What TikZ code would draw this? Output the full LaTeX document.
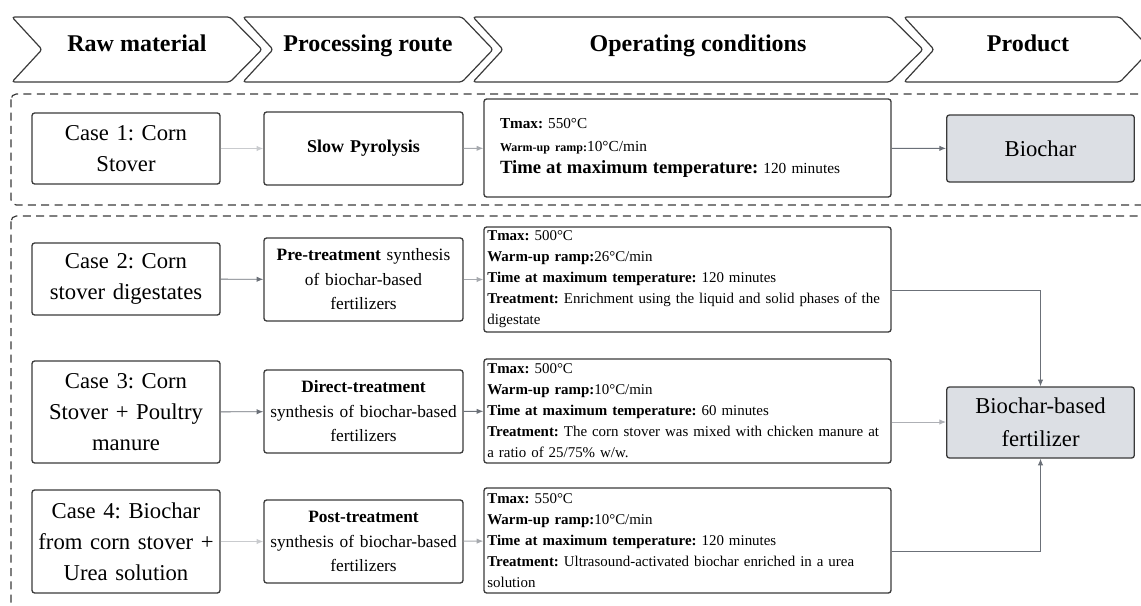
\documentclass[tikz,border=0pt]{standalone}
\usepackage{fontspec}
\setmainfont{Liberation Serif}
\usetikzlibrary{arrows.meta}

\frenchspacing
\hyphenpenalty=10000
\exhyphenpenalty=10000

\definecolor{edgeline}{HTML}{3A3A3A}
\definecolor{linkgray}{HTML}{6B7078}
\definecolor{faintgray}{HTML}{C9CBCE}
\definecolor{prodfill}{HTML}{DCDFE4}

\begin{document}
\begin{tikzpicture}[
    x=0.75pt, y=-0.75pt,
    stage/.style={
        draw=edgeline,
        line width=0.9pt,
        rounded corners=2pt
    },
    stagelabel/.style={
        anchor=base,
        font=\fontsize{18}{22}\selectfont\bfseries
    },
    group/.style={
        draw=edgeline,
        line width=0.9pt,
        dash pattern=on 6pt off 4pt,
        rounded corners=4pt
    },
    casebox/.style={
        draw=edgeline,
        rectangle,
        rounded corners=2pt,
        line width=1pt,
        minimum width=141pt,
        text width=135pt,
        inner xsep=3pt,
        align=center,
        font=\fontsize{17}{23.25}\selectfont
    },
    routebox/.style={
        draw=edgeline,
        rectangle,
        rounded corners=2pt,
        line width=1pt,
        minimum width=149.25pt,
        text width=145pt,
        inner xsep=2pt,
        minimum height=62.25pt,
        align=center,
        font=\fontsize{13}{18.4}\selectfont
    },
    condbox/.style={
        draw=edgeline,
        rectangle,
        rounded corners=2pt,
        line width=1pt,
        minimum width=305.25pt,
        text width=300.25pt,
        inner xsep=2.5pt,
        inner ysep=0pt,
        minimum height=78.75pt,
        align=left,
        font=\fontsize{11.2}{15.75}\selectfont
    },
    productbox/.style={
        draw=edgeline,
        fill=prodfill,
        rectangle,
        rounded corners=2pt,
        line width=1pt,
        minimum width=140.25pt,
        text width=134pt,
        align=center,
        font=\fontsize{17}{24.5}\selectfont
    },
    flow/.style={-{Latex[length=5pt,width=4pt]}, draw=linkgray, line width=0.7pt},
    faintflow/.style={flow, draw=faintgray}
]

\clip (0,0) rectangle (1141,606);

% stage headers
\draw[stage] (12,17) -- (230,17) -- (262,49.5) -- (230,82) -- (12,82) -- (42,49.5) -- cycle;
\draw[stage] (243,17) -- (462,17) -- (493,49.5) -- (462,82) -- (243,82) -- (273,49.5) -- cycle;
\draw[stage] (473,17) -- (890,17) -- (923,49.5) -- (890,82) -- (473,82) -- (503,49.5) -- cycle;
\draw[stage] (904,17) -- (1120,17) -- (1151,49.5) -- (1120,82) -- (904,82) -- (934,49.5) -- cycle;

\node[stagelabel] (rawlabel) at (137,52) {Raw material};
\node[stagelabel] (routelabel) at (368,52) {Processing route};
\node[stagelabel] (condlabel) at (698,52) {Operating conditions};
\node[stagelabel] (prodlabel) at (1028,52) {Product};

% case groups
\draw[group] (11,94) rectangle (1150,205);
\draw[group] (11,216) rectangle (1150,640);

% case 1
\node[casebox, minimum height=53.25pt] (case1) at (126,148.5) {Case 1: Corn\\ Stover};
\node[routebox, minimum height=54.75pt, font=\fontsize{13.5}{18.4}\selectfont\bfseries] (slow) at (363.5,148.5) {Slow Pyrolysis};
\node[condbox, minimum height=73.5pt, inner xsep=12pt, text width=281.25pt, font=\fontsize{11.5}{16.8}\selectfont] (cond1) at (687.5,148) {%
{\fontsize{11.4}{16.8}\selectfont\textbf{Tmax:} 550°C}\\
{\fontsize{9}{16.8}\selectfont\textbf{Warm-up ramp:}}10°C/min\\
{\fontsize{14}{16.8}\selectfont\textbf{Time at maximum temperature:}} 120 minutes};
\node[productbox, minimum height=50.25pt] (biochar) at (1040.5,148.5) {Biochar};

% case 2
\node[casebox, minimum height=54pt] (case2) at (126,279) {Case 2: Corn\\ stover digestates};
\node[routebox] (pre) at (363.5,279.5) {\textbf{Pre-treatment} synthesis\\ of biochar-based\\ fertilizers};
\node[condbox] (cond2) at (687.5,279.5) {%
\textbf{Tmax:} 500°C\\
\textbf{Warm-up ramp:}26°C/min\\
\textbf{Time at maximum temperature:} 120 minutes\\
\textbf{Treatment:} Enrichment using the liquid and solid phases of the\\
digestate};

% case 3
\node[casebox, minimum height=76.5pt] (case3) at (126,412) {Case 3: Corn\\ Stover + Poultry\\ manure};
\node[routebox] (direct) at (363.5,411.5) {\textbf{Direct-treatment}\\ synthesis of biochar-based\\ fertilizers};
\node[condbox, minimum height=78pt] (cond3) at (687.5,411) {%
\textbf{Tmax:} 500°C\\
\textbf{Warm-up ramp:}10°C/min\\
\textbf{Time at maximum temperature:} 60 minutes\\
\textbf{Treatment:} The corn stover was mixed with chicken manure at\\
a ratio of 25/75\% w/w.};

% case 4
\node[casebox, minimum height=77.25pt] (case4) at (126,541.5) {Case 4: Biochar\\ from corn stover +\\ Urea solution};
\node[routebox] (post) at (363.5,541.5) {\textbf{Post-treatment}\\ synthesis of biochar-based\\ fertilizers};
\node[condbox] (cond4) at (687.5,540.5) {%
\textbf{Tmax:} 550°C\\
\textbf{Warm-up ramp:}10°C/min\\
\textbf{Time at maximum temperature:} 120 minutes\\
\textbf{Treatment:} Ultrasound-activated biochar enriched in a urea\\
solution};

\node[productbox, minimum height=53.25pt] (fertilizer) at (1040.5,422.5) {Biochar-based\\ fertilizer};

% connectors
\coordinate (out2) at ([yshift=-8.25pt]cond2.east);
\coordinate (out3) at ([yshift=-8.25pt]cond3.east);
\coordinate (out4) at ([yshift=-8.25pt]cond4.east);

\draw[faintflow] (case1) -- (slow);
\draw[flow, draw=linkgray!60] (slow) -- (cond1);
\draw[flow] (cond1) -- (biochar);

\draw[flow] (case2) -- (pre);
\draw[flow, draw=linkgray!60] (pre) -- (cond2);
\draw[flow] (case3) -- (direct);
\draw[flow] (direct) -- (cond3);
\draw[faintflow] (case4) -- (post);
\draw[flow, draw=linkgray!60] (post) -- (cond4);

\draw[flow] (out2) -| (fertilizer.north);
\draw[flow, draw=linkgray!55] (out3) -- (fertilizer.west |- out3);
\draw[flow] (out4) -| (fertilizer.south);

\end{tikzpicture}
\end{document}
